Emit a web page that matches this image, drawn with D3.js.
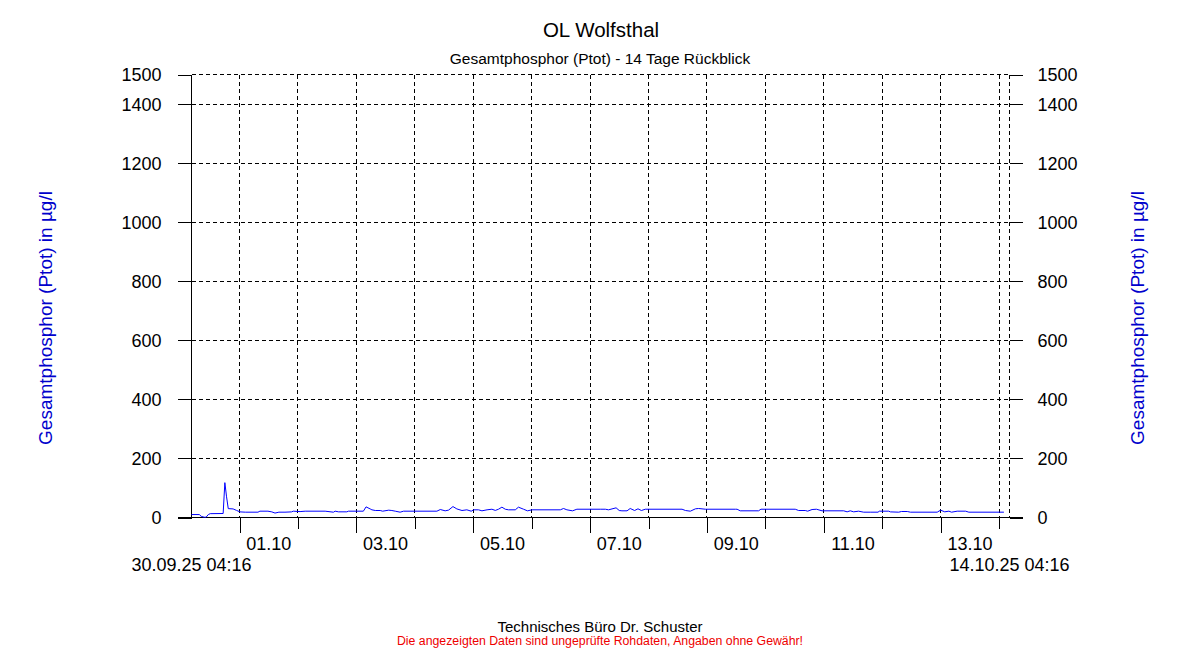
<!DOCTYPE html>
<html>
<head>
<meta charset="utf-8">
<script src="https://cdn.jsdelivr.net/npm/d3@7"></script>
<style>
  html, body { margin: 0; padding: 0; background: #fff; }
  svg { display: block; font-family: "Liberation Sans", Arial, sans-serif; }
</style>
</head>
<body>
<svg id="chart" width="1200" height="650"></svg>
<script>
// ---------- data ----------
const title = "OL Wolfsthal";
const subtitle = "Gesamtphosphor (Ptot) - 14 Tage Rückblick";
const yTitle = "Gesamtphosphor (Ptot) in µg/l";
const footer1 = "Technisches Büro Dr. Schuster";
const footer2 = "Die angezeigten Daten sind ungeprüfte Rohdaten, Angaben ohne Gewähr!";

const startTime = "2025-09-30T04:16";
const endTime = "2025-10-14T04:16";
const startLabel = "30.09.25 04:16";
const endLabel = "14.10.25 04:16";

// hours since start of the window
const hoursSinceStart = [
  0, 3.2, 4.0, 5.2, 6.0, 6.9, 7.7, 13.0, 13.7, 14.4, 15.1, 17.1, 18.5, 19.9, 22.1,
  27.3, 28.1, 31.4, 33.0, 34.3, 35.9, 38.4, 41.1, 41.8, 44.6, 46.7,
  54.9, 58.3, 59.0, 60.4, 63.8, 64.5, 70.6, 71.7, 73.4, 74.1, 75.5, 77.5, 78.5,
  81.0, 82.3, 83.7, 85.7, 87.1, 100.8, 102.2, 104.2, 105.6, 107.4, 109.0, 111.1,
  113.1, 114.9, 115.9, 117.9, 119.3, 121.4, 123.4, 124.8, 126.1, 127.5, 128.9,
  130.2, 133.0, 134.3, 136.4, 138.0, 139.9, 151.5, 152.8, 154.2, 156.5, 158.3, 167.9,
  170.0, 171.3, 174.4, 175.7, 176.8, 178.9, 180.2, 182.0, 183.4, 184.8, 186.4,
  201.5, 202.9, 204.9, 207.0, 208.3, 211.1, 223.4,
  224.1, 225.4, 232.9, 233.9, 248.0, 249.4, 252.1, 253.1, 254.9, 256.7, 259.0,
  267.9, 269.3, 270.6, 272.0, 274.0, 276.1, 278.8,
  282.0, 282.5, 286.4, 287.1, 290.5, 291.6, 294.0, 295.3, 306.3, 307.7, 309.4,
  311.1, 312.2, 314.5, 318.0, 319.3, 333.7
];
const ptot = [
  10, 10, 4, 1, 1, 10, 13, 13.5, 118, 70, 30, 29, 24, 19, 18,
  18, 21.4, 21.4, 19, 15, 18, 18, 19, 21.4, 20, 21.4,
  21.4, 18, 21.4, 19.2, 19.2, 21.4, 21.4, 36, 29, 26, 23.7, 23.7, 21.4,
  24.8, 23.7, 21.4, 18, 21.4, 21.4, 27, 22.6, 25, 37, 29, 23.7,
  26, 21.4, 26, 26, 22.6, 26, 28, 24, 28, 35, 28,
  26, 26, 35, 28, 22.6, 26, 26, 30.5, 26, 22.6, 28, 28,
  28, 26, 32.7, 23.7, 22.6, 22.6, 30.5, 23.7, 29.4, 23.7, 28,
  28, 23.7, 21.4, 29.4, 30.5, 28, 28,
  28, 22.6, 22.6, 28, 28, 23.7, 23.7, 21.4, 27, 28, 22.6,
  22.6, 19.2, 22.6, 19.2, 21.4, 18, 18,
  18, 21.4, 21.4, 19, 18, 20.3, 20.3, 18, 18, 24.8, 19.2,
  21.4, 18, 21.4, 21.4, 18, 18
];

const yTicks = [0, 200, 400, 600, 800, 1000, 1200, 1400, 1500];
const dayTicks = ["2025-10-01", "2025-10-02", "2025-10-03", "2025-10-04", "2025-10-05",
  "2025-10-06", "2025-10-07", "2025-10-08", "2025-10-09", "2025-10-10",
  "2025-10-11", "2025-10-12", "2025-10-13", "2025-10-14"];
const labelledDays = ["2025-10-01", "2025-10-03", "2025-10-05", "2025-10-07",
  "2025-10-09", "2025-10-11", "2025-10-13"];
const dayLabels = ["01.10", "03.10", "05.10", "07.10", "09.10", "11.10", "13.10"];

// ---------- chart ----------
(function () {
const parse = d3.timeParse("%Y-%m-%dT%H:%M");
const parseDay = d3.timeParse("%Y-%m-%d");
const t0 = parse(startTime), t1 = parse(endTime);

const svg = d3.select("#chart");
const pLeft = 191.5, pRight = 1009.5, pTop = 74.5, pBottom = 517.5;

const x = d3.scaleTime().domain([t0, t1]).range([pLeft, pRight]);
const y = d3.scaleLinear().domain([0, 1500]).range([pBottom, pTop]);

const data = hoursSinceStart.map((h, i) => ({
  t: new Date(t0.getTime() + h * 3600e3), v: ptot[i]
}));

const dash = "4,3";
const font = '"Liberation Sans", Arial, sans-serif';
const snap = v => Math.round(v - 0.5) + 0.5;

// horizontal grid
svg.append("g").selectAll("line").data(yTicks.filter(d => d > 0)).join("line")
  .attr("x1", pLeft).attr("x2", pRight)
  .attr("y1", d => snap(y(d))).attr("y2", d => snap(y(d)))
  .attr("stroke", "#000").attr("stroke-dasharray", dash).attr("shape-rendering", "crispEdges");

// vertical grid (days + right border)
const vGrid = dayTicks.map(parseDay).concat([t1]);
svg.append("g").selectAll("line").data(vGrid).join("line")
  .attr("x1", d => snap(x(d))).attr("x2", d => snap(x(d)))
  .attr("y1", pTop).attr("y2", pBottom)
  .attr("stroke", "#000").attr("stroke-dasharray", dash).attr("shape-rendering", "crispEdges");

// left axis
const yl = svg.append("g").attr("transform", `translate(${pLeft},0)`)
  .call(d3.axisLeft(y).tickValues(yTicks).tickSize(14).tickPadding(16).tickFormat(d3.format("d")));
yl.select(".domain").attr("d", `M0,${pTop}V${pBottom}`).attr("shape-rendering", "crispEdges");
yl.selectAll(".tick line").attr("shape-rendering", "crispEdges");
yl.selectAll("text").attr("font-size", 18).attr("font-family", font).attr("fill", "#000").attr("dy", "0.35em");

// right axis
const yr = svg.append("g").attr("transform", `translate(${pRight},0)`)
  .call(d3.axisRight(y).tickValues(yTicks).tickSize(13).tickPadding(15).tickFormat(d3.format("d")));
yr.select(".domain").remove();
yr.selectAll(".tick line").attr("shape-rendering", "crispEdges");
yr.selectAll("text").attr("font-size", 18).attr("font-family", font).attr("fill", "#000").attr("dy", "0.35em");

// bottom axis ticks (long for labelled days)
const fmtDay = d3.timeFormat("%Y-%m-%d");
const xa = svg.append("g").attr("transform", `translate(0,${pBottom})`)
  .call(d3.axisBottom(x).tickValues(dayTicks.map(parseDay)).tickSize(15).tickFormat(""));
xa.select(".domain").remove();
xa.selectAll(".tick line")
  .attr("y2", d => labelledDays.includes(fmtDay(d)) ? 15 : 11)
  .attr("shape-rendering", "crispEdges");

// baseline (x axis line spanning tick to tick)
svg.append("line").attr("x1", pLeft - 14).attr("x2", pRight + 13)
  .attr("y1", pBottom).attr("y2", pBottom).attr("stroke", "#000").attr("shape-rendering", "crispEdges");

// day labels centred at noon
svg.append("g").selectAll("text").data(labelledDays).join("text")
  .attr("x", d => x(d3.timeHour.offset(parseDay(d), 12)))
  .attr("y", 550).attr("text-anchor", "middle")
  .attr("font-size", 18).attr("font-family", font)
  .text((d, i) => dayLabels[i]);

svg.append("text").attr("x", x(t0)).attr("y", 571).attr("text-anchor", "middle")
  .attr("font-size", 18).attr("font-family", font).text(startLabel);
svg.append("text").attr("x", x(t1)).attr("y", 571).attr("text-anchor", "middle")
  .attr("font-size", 18).attr("font-family", font).text(endLabel);

// data line
svg.append("path").datum(data)
  .attr("d", d3.line().x(d => x(d.t)).y(d => y(d.v)))
  .attr("fill", "none").attr("stroke", "#0000ff").attr("stroke-width", 1);

// titles
svg.append("text").attr("x", 601).attr("y", 37).attr("text-anchor", "middle")
  .attr("font-size", 20.5).attr("font-family", font).text(title);
svg.append("text").attr("x", 600).attr("y", 64).attr("text-anchor", "middle")
  .attr("font-size", 15.5).attr("font-family", font).text(subtitle);

svg.append("text").attr("transform", "translate(52,318) rotate(-90)")
  .attr("text-anchor", "middle").attr("font-size", 19).attr("font-family", font)
  .attr("fill", "#0000cc").text(yTitle);
svg.append("text").attr("transform", "translate(1144,318) rotate(-90)")
  .attr("text-anchor", "middle").attr("font-size", 19).attr("font-family", font)
  .attr("fill", "#0000cc").text(yTitle);

svg.append("text").attr("x", 600).attr("y", 632).attr("text-anchor", "middle")
  .attr("font-size", 15).attr("font-family", font).text(footer1);
svg.append("text").attr("x", 600).attr("y", 645).attr("text-anchor", "middle")
  .attr("font-size", 12.3).attr("font-family", font).attr("fill", "#ee0000").text(footer2);
})();
</script>
</body>
</html>
